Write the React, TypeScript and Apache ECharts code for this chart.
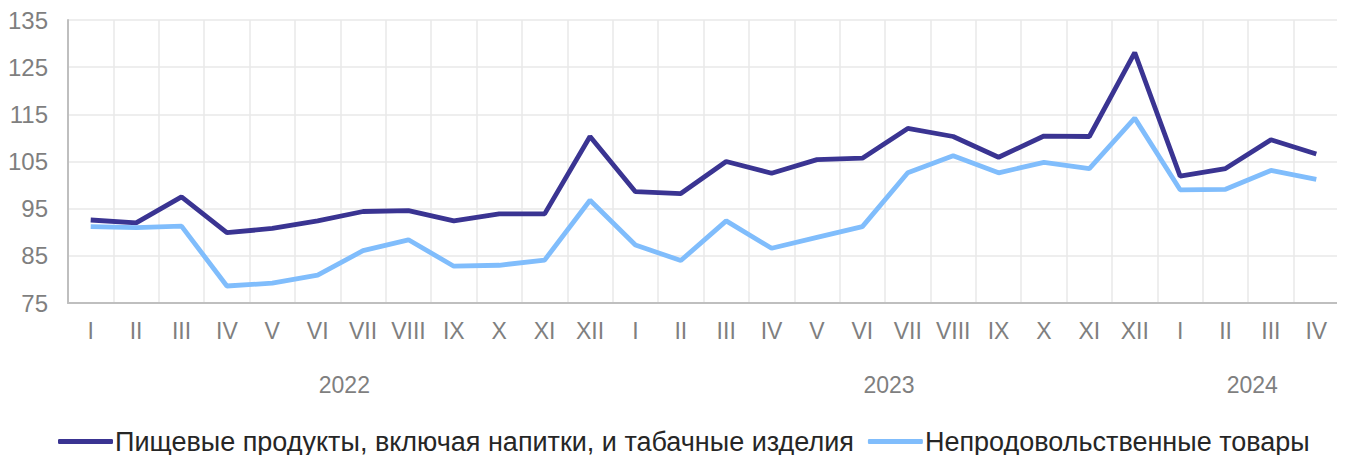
import React, { useEffect, useRef } from "react";
import * as echarts from "echarts";

const months = [
  "I", "II", "III", "IV", "V", "VI", "VII", "VIII", "IX", "X", "XI", "XII",
  "I", "II", "III", "IV", "V", "VI", "VII", "VIII", "IX", "X", "XI", "XII",
  "I", "II", "III", "IV",
];
const yearLabels = [
  { pos: 6, label: "2022" },
  { pos: 18, label: "2023" },
  { pos: 26, label: "2024" },
];
const foodName = "Пищевые продукты, включая напитки, и табачные изделия";
const nonFoodName = "Непродовольственные товары";
const food = [
  92.6, 92.0, 97.5, 89.9, 90.8, 92.4, 94.4, 94.6, 92.4, 93.9, 93.9, 110.3,
  98.6, 98.2, 105.0, 102.5, 105.4, 105.7, 112.0, 110.3, 105.9, 110.4, 110.3, 128.1,
  101.9, 103.5, 109.6, 106.6,
];
const nonFood = [
  91.2, 91.0, 91.3, 78.6, 79.2, 80.9, 86.1, 88.4, 82.8, 83.0, 84.1, 96.8,
  87.3, 84.0, 92.4, 86.6, 88.9, 91.2, 102.6, 106.2, 102.6, 104.8, 103.5, 114.2,
  99.0, 99.1, 103.1, 101.2,
];
const yTicks = { min: 75, max: 135, interval: 10 };

export default function App() {
  const ref = useRef<HTMLDivElement>(null);
  useEffect(() => {
    if (!ref.current) return;
    const chart = echarts.init(ref.current, null, { renderer: "svg" });
    const font = "Liberation Sans, Arial, sans-serif";
    chart.setOption({
      animation: false,
      textStyle: { fontFamily: font },
      grid: { left: 68, right: 6, top: 20, bottom: 160, containLabel: false },
      legend: {
        bottom: 3,
        left: 53,
        data: [foodName, nonFoodName],
        icon: "roundRect",
        itemWidth: 55,
        itemHeight: 5,
        itemGap: 14,
        textStyle: { fontSize: 27, color: "#262626", fontFamily: font, padding: [0, 0, 0, -3] },
      },
      xAxis: [
        {
          type: "category",
          data: months,
          boundaryGap: true,
          axisLine: { lineStyle: { color: "#bfbfbf", width: 2 } },
          axisTick: { show: false },
          axisLabel: { color: "#7f7f7f", fontSize: 23, margin: 16, interval: 0 },
          splitLine: { show: true, interval: 0, lineStyle: { color: "#e8e8e8", width: 1.5 } },
        },
        {
          type: "value",
          position: "bottom",
          min: 0,
          max: months.length,
          interval: 2,
          axisLine: { show: false },
          axisTick: { show: false },
          splitLine: { show: false },
          axisLabel: {
            color: "#7f7f7f",
            fontSize: 23,
            margin: 70,
            padding: [0, 0, 0, 8],
            showMinLabel: true,
            showMaxLabel: true,
            formatter: (v: number) => {
              const f = yearLabels.find((y) => y.pos === v);
              return f ? f.label : "";
            },
          },
        },
      ],
      yAxis: {
        type: "value",
        min: yTicks.min,
        max: yTicks.max,
        interval: yTicks.interval,
        axisLine: { show: true, lineStyle: { color: "#bfbfbf", width: 2 } },
        axisTick: { show: false },
        axisLabel: { color: "#7f7f7f", fontSize: 24, margin: 20 },
        splitLine: { show: true, lineStyle: { color: "#e8e8e8", width: 1.5 } },
      },
      series: [
        {
          name: foodName,
          type: "line",
          data: food,
          xAxisIndex: 0,
          showSymbol: false,
          lineStyle: { color: "#3a3492", width: 4.8 },
          itemStyle: { color: "#3a3492" },
        },
        {
          name: nonFoodName,
          type: "line",
          data: nonFood,
          xAxisIndex: 0,
          showSymbol: false,
          lineStyle: { color: "#80bdfc", width: 4.8 },
          itemStyle: { color: "#80bdfc" },
        },
      ],
    });
    return () => chart.dispose();
  }, []);
  return <div ref={ref} style={{ width: 1345, height: 463, margin: -8 }} />;
}
